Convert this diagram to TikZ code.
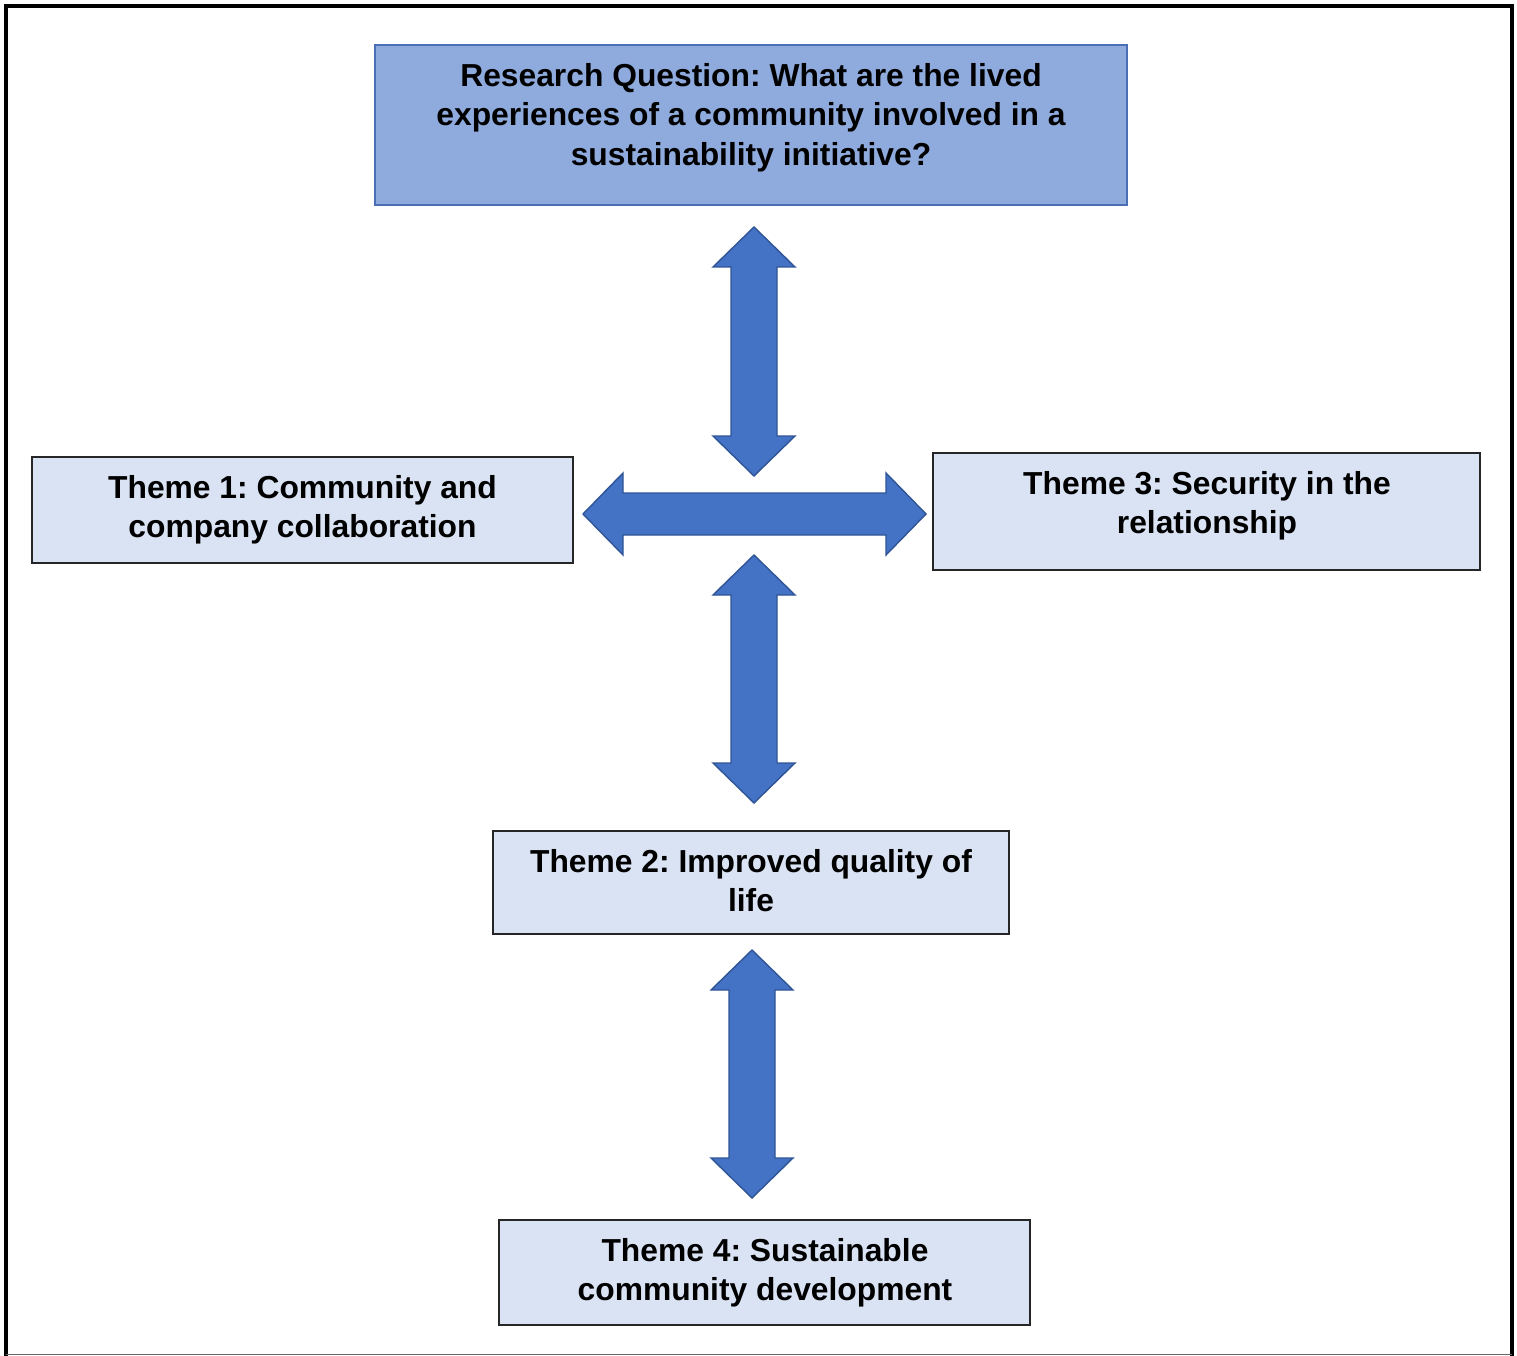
\documentclass[tikz,border=0pt]{standalone}
\usepackage{fontspec}
\setmainfont{Liberation Sans}
\frenchspacing
\definecolor{rqfill}{HTML}{8FAADC}
\definecolor{rqedge}{HTML}{4A6FB5}
\definecolor{themefill}{HTML}{DAE3F3}
\definecolor{themeedge}{HTML}{262626}
\definecolor{arrowfill}{HTML}{4472C4}
\definecolor{arrowedge}{HTML}{2F5597}
\tikzset{
  box/.style={draw=themeedge, fill=themefill, line width=1.2pt, inner sep=0pt, outer sep=0pt},
  rqbox/.style={draw=rqedge, fill=rqfill, line width=1.4pt, inner sep=0pt, outer sep=0pt},
  label text/.style={anchor=north, inner sep=0pt, align=center,
    font=\fontsize{31.8pt}{39.5pt}\selectfont\bfseries},
  blockarrow/.style={fill=arrowfill, draw=arrowedge, line width=1.4pt, line join=miter},
  % double-headed block arrow along the x axis: #1 = half length, #2 = half shaft width
  pics/dblarrow/.style 2 args={code={
    \draw[blockarrow] (-#1,0) -- ({-#1+40},-41) -- ({-#1+40},-#2) -- ({#1-40},-#2)
      -- ({#1-40},-41) -- (#1,0) -- ({#1-40},41) -- ({#1-40},#2)
      -- ({-#1+40},#2) -- ({-#1+40},41) -- cycle;
  }},
}
\begin{document}
\begin{tikzpicture}[x=1pt,y=-1pt]
\useasboundingbox (0,0) rectangle (1517,1356);

% frame
\draw[line width=3.5pt, line join=miter] (6,1356) -- (6,6) -- (1512,6) -- (1512,1356);
\draw[line width=1.5pt, black!60] (6,1354.5) -- (1512,1354.5);

% boxes
\node[rqbox, minimum width=752pt, minimum height=160pt] (rq) at (751,125) {};
\node[box, minimum width=541pt, minimum height=106pt] (t1) at (302.5,510) {};
\node[box, minimum width=547pt, minimum height=117pt] (t3) at (1206.5,511.5) {};
\node[box, minimum width=516pt, minimum height=103pt] (t2) at (751,882.5) {};
\node[box, minimum width=531pt, minimum height=105pt] (t4) at (764.5,1272.5) {};

% texts
\node[label text] (rqtext) at (751,63) {Research Question: What are the lived\\experiences of a community involved in a\\sustainability initiative?};
\node[label text] (t1text) at (302.5,475) {Theme 1: Community and\\company collaboration};
\node[label text] (t3text) at (1207,471) {Theme 3: Security in the\\relationship};
\node[label text] (t2text) at (751,849) {Theme 2: Improved quality of\\life};
\node[label text] (t4text) at (765,1238) {Theme 4: Sustainable\\community development};

% block arrows
\pic[rotate=90] (up) at (754,351.5) {dblarrow={124.5}{23}};
\pic (across) at (754.5,514) {dblarrow={171.5}{21}};
\pic[rotate=90] (down) at (754,679) {dblarrow={124}{23}};
\pic[rotate=90] (bottom) at (752,1074) {dblarrow={124}{23}};
\end{tikzpicture}
\end{document}
